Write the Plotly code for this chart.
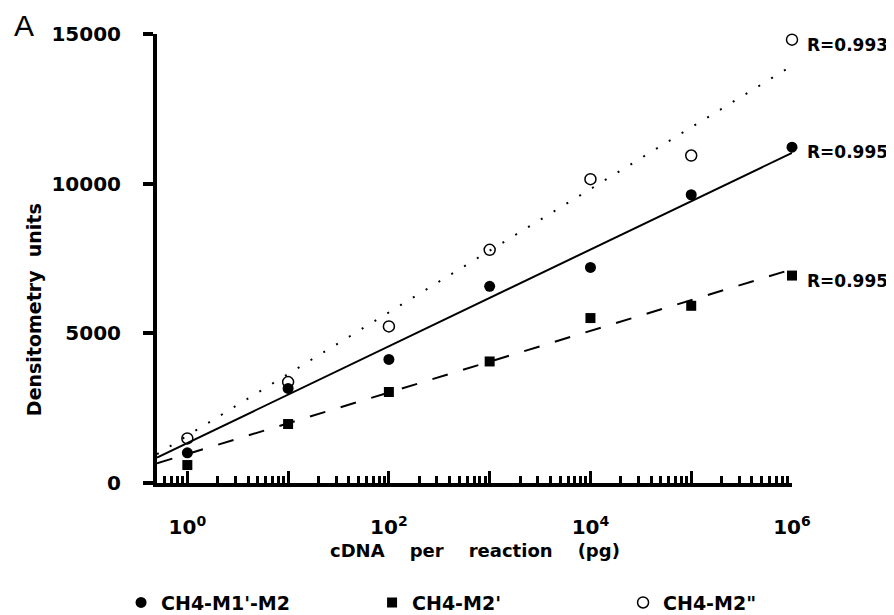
import plotly.graph_objects as go

# ---- data ----
cdna_pg = [1, 10, 100, 1000, 10000, 100000, 1000000]
m1_m2 = [1010, 3160, 4130, 6570, 7200, 9630, 11220]        # filled circles
m2_prime = [600, 1970, 3040, 4060, 5510, 5920, 6930]       # filled squares
m2_dprime = [1490, 3370, 5230, 7790, 10150, 10940, 14810]  # open circles

# fitted lines (end values)
fit_x = [0.5, 1000000]
fit_m1_m2 = [851, 11030]
fit_m2_prime = [657, 7140]
fit_m2_dprime = [962, 13940]

r_labels = ["R=0.993", "R=0.995", "R=0.995"]
r_label_y = [14810, 11220, 6930]

x_major = [1, 10, 100, 1000, 10000, 100000, 1000000]
x_labelvals = [1, 100, 10000, 1000000]
x_labeltext = ["10<sup>0</sup>", "10<sup>2</sup>", "10<sup>4</sup>", "10<sup>6</sup>"]
x_minor = [m * 10 ** k for k in range(-1, 6) for m in range(2, 10) if m * 10 ** k >= 0.5]
y_tickvals = [0, 5000, 10000, 15000]
y_ticktext = ["0", "5000", "10000", "15000"]

FONT = "DejaVu Sans"
XRANGE = [-0.30103, 6.0]

fig = go.Figure()

# fit lines
fig.add_trace(go.Scatter(x=fit_x, y=fit_m2_dprime, mode="lines", showlegend=False,
                         line=dict(color="black", width=2, dash="2px,13px")))
fig.add_trace(go.Scatter(x=fit_x, y=fit_m1_m2, mode="lines", showlegend=False,
                         line=dict(color="black", width=2)))
fig.add_trace(go.Scatter(x=fit_x, y=fit_m2_prime, mode="lines", showlegend=False,
                         line=dict(color="black", width=2, dash="16px,16px")))

# data points (on the overlaid labelled axis, same scale)
fig.add_trace(go.Scatter(x=cdna_pg, y=m1_m2, mode="markers", name="CH4-M1'-M2",
                         xaxis="x2", cliponaxis=False,
                         marker=dict(symbol="circle", size=11, color="black")))
fig.add_trace(go.Scatter(x=cdna_pg, y=m2_prime, mode="markers", name="CH4-M2'",
                         xaxis="x2", cliponaxis=False,
                         marker=dict(symbol="square", size=10, color="black")))
fig.add_trace(go.Scatter(x=cdna_pg, y=m2_dprime, mode="markers", name='CH4-M2"',
                         xaxis="x2", cliponaxis=False,
                         marker=dict(symbol="circle-open", size=11, color="black",
                                     line=dict(width=1.5, color="black"))))

annotations = []
for txt, yv in zip(r_labels, r_label_y):
    annotations.append(dict(text=txt, xref="paper", yref="y", x=1, y=yv,
                            xanchor="left", yanchor="middle", xshift=13, yshift=-5,
                            showarrow=False,
                            font=dict(family=FONT, size=17, color="black", weight="bold")))
annotations.append(dict(text="Densitometry  units", xref="paper", yref="paper",
                        x=-0.1937, y=0.385, xanchor="center", yanchor="middle",
                        textangle=-90, showarrow=False,
                        font=dict(family=FONT, size=19, color="black", weight="bold")))
annotations.append(dict(text="cDNA    per    reaction    (pg)", xref="paper", yref="paper",
                        x=0.5, y=-0.1507, xanchor="center", yanchor="middle",
                        showarrow=False,
                        font=dict(family=FONT, size=18, color="black", weight="bold")))
annotations.append(dict(text="A", xref="paper", yref="paper",
                        x=-0.2283, y=1.018, xanchor="left", yanchor="middle",
                        showarrow=False,
                        font=dict(family="Liberation Sans", size=30, color="black")))

fig.update_layout(
    width=894, height=660,
    margin=dict(l=149, r=110, t=26, b=185),
    paper_bgcolor="white", plot_bgcolor="white",
    showlegend=True,
    legend=dict(orientation="h", x=-0.0566, y=-0.2664, xanchor="left", yanchor="middle",
                entrywidth=206, entrywidthmode="pixels",
                font=dict(family=FONT, size=19, color="black", weight="bold"),
                bgcolor="rgba(0,0,0,0)"),
    annotations=annotations,
    xaxis=dict(type="log", range=XRANGE, showgrid=False, zeroline=False,
               showline=True, linecolor="black", linewidth=4,
               tickmode="array", tickvals=x_major, showticklabels=False,
               ticks="inside", ticklen=12, tickwidth=3, tickcolor="black",
               minor=dict(tickmode="array", tickvals=x_minor, ticks="inside",
                          ticklen=7, tickwidth=3, tickcolor="black", showgrid=False)),
    xaxis2=dict(type="log", range=XRANGE, overlaying="x", anchor="y", side="bottom",
                showgrid=False, zeroline=False, showline=False,
                tickmode="array", tickvals=x_labelvals, ticktext=x_labeltext,
                ticks="", ticklabelstandoff=30,
                tickfont=dict(family=FONT, size=20, color="black", weight="bold")),
    yaxis=dict(range=[0, 15000], showgrid=False, zeroline=False,
               showline=True, linecolor="black", linewidth=4,
               tickmode="array", tickvals=y_tickvals, ticktext=y_ticktext,
               ticks="outside", ticklen=10, tickwidth=4, tickcolor="black",
               ticklabelstandoff=18,
               tickfont=dict(family=FONT, size=20, color="black", weight="bold")),
)

fig.write_html("out.html")
